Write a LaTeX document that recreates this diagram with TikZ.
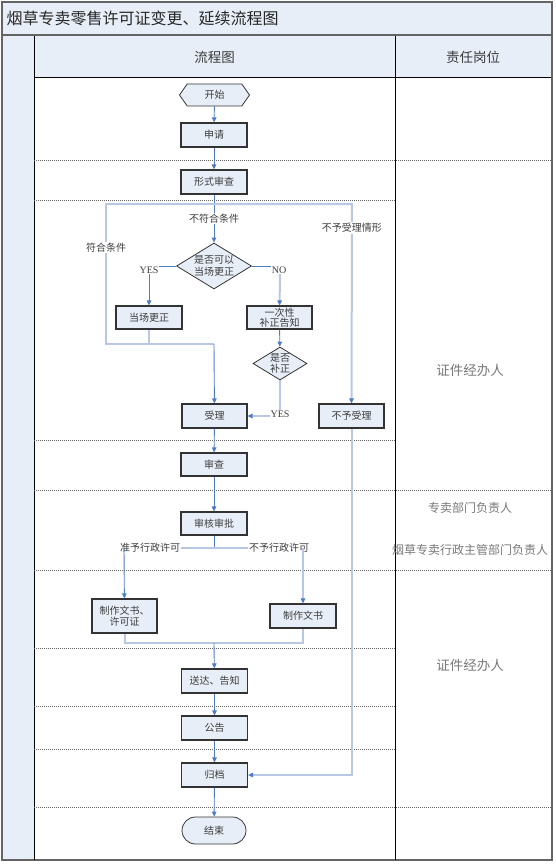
\documentclass[tikz,border=0pt]{standalone}
\usepackage{fontspec}
\setmainfont{Noto Sans CJK SC}
\newfontfamily\latinfont{Liberation Serif}
\usepackage{tikz}
\usetikzlibrary{positioning, arrows.meta, shapes.geometric, shapes.misc, shapes.symbols, calc}
\definecolor{lanefill}{RGB}{232,238,248}
\definecolor{flowblue}{RGB}{79,123,196}
\definecolor{loopblue}{RGB}{184,200,228}
\definecolor{framegray}{RGB}{100,100,100}
\definecolor{textgray}{RGB}{60,60,60}
\definecolor{rolegray}{RGB}{120,120,120}

\begin{document}
\begin{tikzpicture}[x=1pt, y=-1pt,
  stepbox/.style={draw=black!80, line width=1.1pt, fill=lanefill,
               minimum width=66pt, minimum height=24pt, inner sep=1pt,
               font=\fontsize{10}{11}\selectfont, text=textgray, align=center},
  decision/.style={draw=black!80, line width=0.8pt, fill=lanefill, diamond,
               inner sep=0pt},
  startnode/.style={draw=black!80, line width=0.8pt, fill=lanefill, signal,
               signal to=west and east, signal pointer angle=110,
               minimum width=70pt, minimum height=22pt, inner sep=0pt,
               font=\fontsize{10}{11}\selectfont, text=textgray},
  endnode/.style={draw=black!80, line width=0.8pt, fill=lanefill, rounded rectangle,
               minimum width=64pt, minimum height=27pt, inner sep=0pt,
               font=\fontsize{10}{11}\selectfont, text=textgray},
  lbl/.style={fill=white, inner sep=1pt, font=\fontsize{10}{11}\selectfont, text=textgray},
  role/.style={font=\fontsize{13.5}{15}\selectfont, text=rolegray},
  smallrole/.style={font=\fontsize{12}{14}\selectfont, text=rolegray},
  tip/.style={-{Triangle[length=5pt, width=4.5pt, fill=flowblue, color=flowblue]}},
  flowline/.style={draw=flowblue, line width=0.9pt},
  loopline/.style={draw=loopblue, line width=2pt},
  sep/.style={draw=black!60, line width=0.6pt, dash pattern=on 1pt off 1pt}
]
  \useasboundingbox (0,0) rectangle (555,864);

  %% Frame and lanes
  \fill[lanefill] (2,2) rectangle (552,35);
  \fill[lanefill] (2,35) rectangle (34,860);
  \fill[lanefill] (34,36) rectangle (551,78);
  \draw[framegray, line width=1.6pt] (2,2) rectangle (552,860);
  \draw[framegray, line width=1.4pt] (2,35) -- (552,35);
  \draw[black, line width=1pt] (34,36) -- (34,860);
  \draw[black, line width=1pt] (34,78) -- (551,78);
  \draw[black, line width=1pt] (395,36) -- (395,860);

  %% Row separators
  \draw[sep] (34,160) -- (551,160) (34,490) -- (551,490)
             (34,570) -- (551,570) (34,807) -- (551,807);
  \draw[sep] (34,200) -- (395,200) (34,440) -- (395,440) (34,648) -- (395,648)
             (34,706) -- (395,706) (34,749) -- (395,749);

  %% Headings
  \node[anchor=west, font=\fontsize{16}{18}\selectfont, text=black!85] (title) at (3,18.5)
    {烟草专卖零售许可证变更、延续流程图};
  \node[font=\fontsize{13.5}{15}\selectfont, text=textgray] (hflow) at (214.5,57) {流程图};
  \node[font=\fontsize{13.5}{15}\selectfont, text=textgray] (hrole) at (473,57) {责任岗位};

  %% Responsible posts
  \node[role] (role1) at (470,370) {证件经办人};
  \node[smallrole] (role2) at (470,508) {专卖部门负责人};
  \node[smallrole] (role3) at (470,550) {烟草专卖行政主管部门负责人};
  \node[role] (role4) at (470,665) {证件经办人};

  %% Steps
  \node[startnode] (start)   at (214.5,95)    {开始};
  \node[stepbox]   (apply)   at (214,135)     {申请};
  \node[stepbox]   (formal)  at (214,182)     {形式审查};
  \node[decision, minimum width=75pt, minimum height=46pt,
        label={[font=\fontsize{10}{11.5}\selectfont, text=textgray, align=center]center:是否可以\\当场更正}]
                   (canfix)  at (214,266)     {};
  \node[stepbox, minimum height=23pt] (fix)    at (149,317.5) {当场更正};
  \node[stepbox, minimum width=65pt, minimum height=23pt, font=\fontsize{10}{10.5}\selectfont]
                   (notify)  at (279.5,317.5) {一次性\\补正告知};
  \node[decision, minimum width=54pt, minimum height=33pt,
        label={[font=\fontsize{10}{10.5}\selectfont, text=textgray, align=center]center:是否\\补正}]
                   (amend)   at (280,363.5)   {};
  \node[stepbox, minimum width=65pt] (accept)  at (214.5,416) {受理};
  \node[stepbox, minimum width=65pt] (refuse)  at (351.5,416) {不予受理};
  \node[stepbox, minimum height=23pt] (review) at (214,464.5) {审查};
  \node[stepbox, minimum height=23pt] (approve) at (214,523.5) {审核审批};
  \node[stepbox, minimum width=65pt, minimum height=34pt] (permit) at (124.5,616) {制作文书、\\许可证};
  \node[stepbox] (docs)     at (303,616)     {制作文书};
  \node[stepbox] (deliver)  at (214.5,681)   {送达、告知};
  \node[stepbox] (announce) at (214.5,728)   {公告};
  \node[stepbox] (archive)  at (214.5,775)   {归档};
  \node[endnode] (finish)   at (214,830.5)   {结束};

  %% Junction points
  \coordinate (split)  at (214,204);
  \coordinate (loopL)  at (106,204);
  \coordinate (loopR)  at (352,204);
  \coordinate (join)   at (214,344);
  \coordinate (nocorner) at (280,266);
  \coordinate (branch) at (214,548);
  \coordinate (grantL) at (124,548);
  \coordinate (denyR)  at (303,548);
  \coordinate (merge)  at (214,643);

  %% Main line
  \draw[flowline, tip] (start) -- (apply);
  \draw[flowline, tip] (apply) -- (formal);
  \draw[flowline, tip] (formal) -- node[lbl] {不符合条件} (canfix);

  %% Outer loop: conditions met / refused
  \draw[loopline] (split) -- (loopL) -- node[lbl, pos=0.31] {符合条件} (join -| loopL) -- (join);
  \draw[loopline, tip] (split) -- (loopR) -- node[lbl, pos=0.12] {不予受理情形} (refuse);

  %% Correction branches
  \draw[flowline, tip] (canfix.west) -| node[lbl, pos=0.5, yshift=-4pt, font=\fontsize{10}{11}\latinfont] {YES} (fix);
  \draw[flowline] (canfix.east) -- (nocorner);
  \draw[loopline, tip] (nocorner) -- (notify);
  \node[lbl, font=\fontsize{10}{11}\latinfont] (nolbl) at (279,270) {NO};
  \draw[flowline, tip] (notify) -- (amend);
  \draw[loopline] (fix) |- (join);
  \draw[flowline, tip] (join) -- (accept);
  \draw[loopline, tip] (amend) |- node[lbl, pos=0.5, yshift=2pt, font=\fontsize{10}{11}\latinfont] {YES} (accept);
  \draw[loopline, tip] (refuse) |- (archive);

  %% Review and approval
  \draw[flowline, tip] (accept) -- (review);
  \draw[flowline, tip] (review) -- (approve);
  \draw[flowline] (approve) -- (branch);
  \draw[loopline] (grantL) -- (denyR);
  \node[lbl] (grant) at (150,548) {准予行政许可};
  \node[lbl] (deny)  at (279,548) {不予行政许可};
  \draw[flowline, tip] (grantL) -- (permit);
  \draw[loopline, tip] (denyR) -- (docs);
  \draw[loopline] (permit) |- (merge);
  \draw[loopline] (docs) |- (merge);

  %% Closing steps
  \draw[flowline, tip] (merge) -- (deliver);
  \draw[flowline, tip] (deliver) -- (announce);
  \draw[flowline, tip] (announce) -- (archive);
  \draw[flowline, tip] (archive) -- (finish);
\end{tikzpicture}
\end{document}
